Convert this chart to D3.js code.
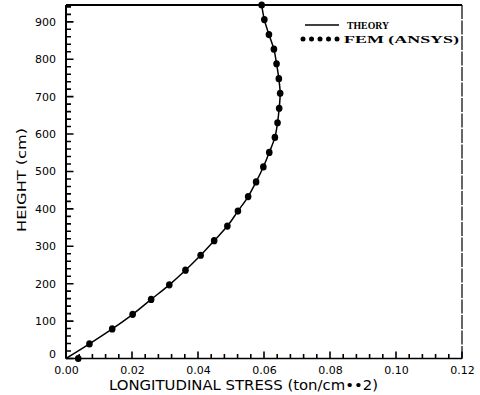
<!DOCTYPE html>
<html>
<head>
<meta charset="utf-8">
<script src="https://cdn.jsdelivr.net/npm/d3@7"></script>
<style>
  body { margin: 0; background: #fff; }
  svg { display: block; }
</style>
</head>
<body>
<div id="chart-container"></div>
<script>
// heights (cm) of the FEM nodes
const heights = [0, 39, 79, 118, 158, 197, 236, 276, 315, 354, 394, 433, 472,
                 512, 551, 591, 630, 669, 709, 748, 788, 827, 866, 906, 945];
// FEM (ANSYS) longitudinal stress at those heights (ton/cm**2)
const femStress = [0.0037, 0.0071, 0.0140, 0.0202, 0.0258, 0.0313, 0.0362, 0.0408,
                   0.0449, 0.0489, 0.0521, 0.0552, 0.0576, 0.0598, 0.0616, 0.0633,
                   0.0641, 0.0646, 0.0649, 0.0645, 0.0638, 0.0630, 0.0615, 0.0601, 0.0593];
// theory curve, same heights
const theoryStress = [0.0000, 0.0071, 0.0140, 0.0202, 0.0258, 0.0313, 0.0362, 0.0408,
                      0.0449, 0.0489, 0.0521, 0.0552, 0.0576, 0.0598, 0.0616, 0.0633,
                      0.0641, 0.0646, 0.0649, 0.0645, 0.0638, 0.0630, 0.0615, 0.0601, 0.0593];

const xTicks = [0, 0.02, 0.04, 0.06, 0.08, 0.10, 0.12];
const yTicks = [0, 100, 200, 300, 400, 500, 600, 700, 800, 900];
const legendLabels = ["THEORY", "FEM (ANSYS)"];

// plot frame inside the 480x395 window
const W = 480, H = 395;
const margin = { top: 5, right: 18, bottom: 36.5, left: 66 };
const width = W - margin.left - margin.right;
const height = H - margin.top - margin.bottom;

const x = d3.scaleLinear().domain([0, 0.12]).range([0, width]);
const y = d3.scaleLinear().domain([0, 945]).range([height, 0]);

const svg = d3.select("#chart-container")
    .append("svg")
    .attr("width", W)
    .attr("height", H)
    .append("g")
    .attr("transform", `translate(${margin.left},${margin.top})`);

const font = "'DejaVu Sans', sans-serif";

// inward tick marks: x minor every 0.004, y minor every 20, every 5th one longer
const xMinor = d3.range(0, 0.1201, 0.004);
const yMinor = d3.range(0, 941, 20);

const xTickPath = xMinor.map((d, i) =>
    `M${x(d)},${height}V${height - (i % 5 === 0 ? 7 : 4.5)}`).join("");
svg.append("path")
    .attr("d", xTickPath)
    .attr("fill", "none")
    .attr("stroke", "#000")
    .attr("stroke-width", 1.6);

const yTickPath = yMinor.map((d, i) =>
    `M0,${y(d)}H${i % 5 === 0 ? 7.5 : 5}`).join("");
svg.append("path")
    .attr("d", yTickPath)
    .attr("fill", "none")
    .attr("stroke", "#000")
    .attr("stroke-width", 1.6);

// tick labels
svg.append("g")
    .attr("transform", `translate(0,${height})`)
    .call(d3.axisBottom(x).tickValues(xTicks).tickSize(0).tickPadding(8)
        .tickFormat(d3.format(".2f")))
    .call(g => g.select(".domain").remove())
    .selectAll("text")
    .attr("fill", "#000")
    .style("font-family", font)
    .style("font-size", "11px");

svg.append("g")
    .call(d3.axisLeft(y).tickValues(yTicks).tickSize(0).tickPadding(10))
    .call(g => g.select(".domain").remove())
    .selectAll("text")
    .attr("fill", "#000")
    .attr("dy", (d) => d === 0 ? "-0.05em" : "0.32em")
    .style("font-family", font)
    .style("font-size", "11px");

// frame
svg.append("line").attr("x1", 0).attr("x2", 0).attr("y1", 0).attr("y2", height)
    .attr("stroke", "#000").attr("stroke-width", 2);
svg.append("line").attr("x1", 0).attr("x2", width).attr("y1", height).attr("y2", height)
    .attr("stroke", "#000").attr("stroke-width", 1.6);
svg.append("line").attr("x1", 0).attr("x2", width).attr("y1", 0).attr("y2", 0)
    .attr("stroke", "#000").attr("stroke-width", 2);
svg.append("line").attr("x1", width).attr("x2", width).attr("y1", 0).attr("y2", height)
    .attr("stroke", "#000").attr("stroke-width", 1.2)
    .attr("stroke-dasharray", "14,1.5");

// axis titles
svg.append("text")
    .attr("x", 109 - margin.left)
    .attr("y", height + 31)
    .attr("textLength", 269)
    .attr("lengthAdjust", "spacingAndGlyphs")
    .style("font-family", font)
    .style("font-size", "13.5px")
    .text("LONGITUDINAL STRESS (ton/cm••2)");

svg.append("text")
    .attr("transform", `translate(${26 - margin.left},${180 - margin.top}) rotate(-90)`)
    .attr("text-anchor", "middle")
    .attr("textLength", 104)
    .attr("lengthAdjust", "spacingAndGlyphs")
    .style("font-family", font)
    .style("font-size", "13px")
    .text("HEIGHT (cm)");

// theory line
const theoryData = heights.map((h, i) => ({ h: h, s: theoryStress[i] }));
const femData = heights.map((h, i) => ({ h: h, s: femStress[i] }));

const line = d3.line()
    .x(d => x(d.s))
    .y(d => y(d.h))
    .curve(d3.curveCatmullRom);

svg.append("path")
    .datum(theoryData)
    .attr("fill", "none")
    .attr("stroke", "#000")
    .attr("stroke-width", 1.5)
    .attr("d", line);

// FEM points
svg.selectAll(".fem")
    .data(femData)
    .join("ellipse")
    .attr("class", "fem")
    .attr("cx", d => x(d.s))
    .attr("cy", d => y(d.h))
    .attr("rx", 3.3)
    .attr("ry", 3.6)
    .attr("fill", "#000");

// legend
const lg = svg.append("g").attr("transform", `translate(${305 - margin.left},${25 - margin.top})`);
lg.append("line").attr("x1", 0).attr("x2", 34).attr("y1", 0).attr("y2", 0)
    .attr("stroke", "#000").attr("stroke-width", 1.3);
lg.selectAll(".ldot")
    .data(d3.range(5))
    .join("circle")
    .attr("class", "ldot")
    .attr("cx", d => -2 + d * 8.5)
    .attr("cy", 14)
    .attr("r", 2.5)
    .attr("fill", "#000");
lg.selectAll(".ltext")
    .data(legendLabels)
    .join("text")
    .attr("class", "ltext")
    .attr("x", (d, i) => i === 0 ? 42 : 39)
    .attr("y", (d, i) => 4 + i * 14)
    .attr("textLength", (d, i) => i === 0 ? 42 : 115)
    .attr("lengthAdjust", "spacingAndGlyphs")
    .style("font-family", "'Liberation Serif', serif")
    .style("font-weight", "bold")
    .style("font-size", "11px")
    .text(d => d);
</script>
</body>
</html>
